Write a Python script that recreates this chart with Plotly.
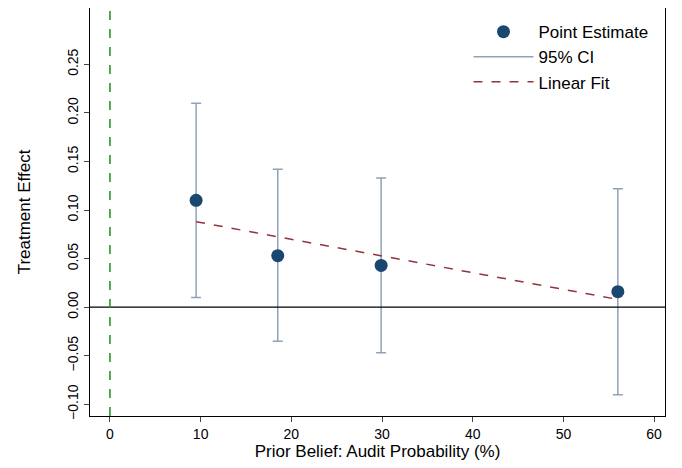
import plotly.graph_objects as go

# estimates
prior = [9.5, 18.5, 29.9, 56.0]
effect = [0.110, 0.053, 0.043, 0.016]
ci_low = [0.010, -0.035, -0.047, -0.090]
ci_high = [0.210, 0.142, 0.133, 0.122]
fit_x = [9.5, 56.0]
fit_y = [0.088, 0.008]

err_plus = [h - e for h, e in zip(ci_high, effect)]
err_minus = [e - l for e, l in zip(effect, ci_low)]

fig = go.Figure()
fig.add_trace(go.Scatter(
    x=prior, y=effect, mode="markers", showlegend=False,
    marker=dict(size=0.1, color="rgba(0,0,0,0)"),
    error_y=dict(type="data", symmetric=False, array=err_plus, arrayminus=err_minus,
                 color="#8fa3b8", thickness=1.5, width=5),
))
fig.add_trace(go.Scatter(
    x=prior, y=effect, mode="markers", name="Point Estimate",
    marker=dict(color="#1a476f", size=13),
))
# legend entry for the CI bars
fig.add_trace(go.Scatter(
    x=[None], y=[None], mode="lines", name="95% CI",
    line=dict(color="#8fa3b8", width=1.5),
))
fig.add_trace(go.Scatter(
    x=fit_x, y=fit_y, mode="lines", name="Linear Fit",
    line=dict(color="#90353b", dash="dash", width=1.5),
))

fig.add_hline(y=0, line=dict(color="black", width=1.2))
fig.add_vline(x=0, line=dict(color="#1e8c1e", dash="dash", width=1.5))

fig.update_layout(
    width=666, height=455,
    margin=dict(l=82, r=9, t=0, b=47, autoexpand=False),
    plot_bgcolor="white", paper_bgcolor="white",
    font=dict(family="Liberation Sans, Arial", size=14, color="black"),
    legend=dict(x=0.98, y=0.985, xanchor="right", yanchor="top",
                bgcolor="rgba(0,0,0,0)", font=dict(size=17), itemwidth=60),
    xaxis=dict(range=[-2.2, 61.2], tickvals=[0, 10, 20, 30, 40, 50, 60],
               title=dict(text="Prior Belief: Audit Probability (%)", standoff=2),
               showgrid=False, zeroline=False, showline=True, linecolor="black",
               mirror=True, ticks="outside", ticklen=5, automargin=False),
    yaxis=dict(range=[-0.112, 0.308],
               tickvals=[-0.10, -0.05, 0, 0.05, 0.10, 0.15, 0.20, 0.25],
               tickformat=".2f", tickangle=-90,
               title=dict(text="Treatment Effect", standoff=30),
               showgrid=False, zeroline=False, showline=True, linecolor="black",
               mirror=True, ticks="outside", ticklen=5, automargin=False),
)

fig.write_html("out.html")
